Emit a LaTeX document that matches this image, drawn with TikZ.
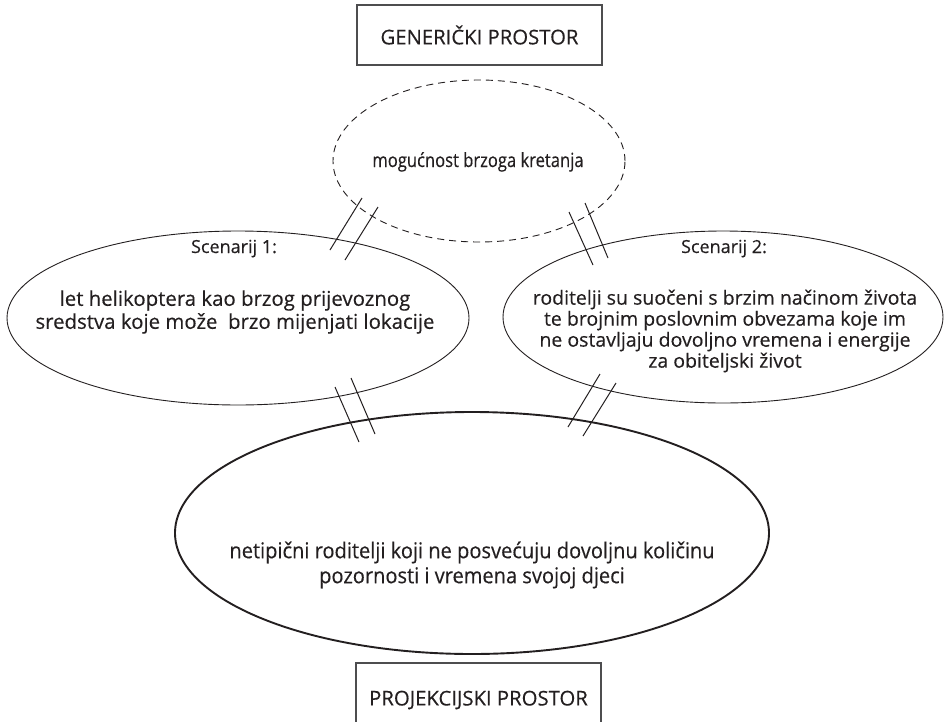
\documentclass[tikz,border=0pt]{standalone}
\usepackage{fontspec}
\setmainfont[FakeBold=0.35]{Open Sans}
\newfontfamily\narrowsans[FakeStretch=0.92,FakeBold=0.35]{Open Sans}
\newfontfamily\condsans[FakeStretch=0.85,FakeBold=0.35]{Open Sans}
\usetikzlibrary{shapes.geometric}
\definecolor{ink}{HTML}{231F20}
\definecolor{frame}{HTML}{4D4D4F}
\begin{document}
\begin{tikzpicture}[x=1pt,y=-1pt,
  spacebox/.style={draw=frame,line width=1.4pt,minimum width=245pt,minimum height=60pt,
    inner sep=0pt,text=ink,font=\fontsize{20.3}{24}\selectfont},
  oval/.style={ellipse,draw=ink,line width=0.9pt,inner sep=0pt},
  label/.style={text=ink,align=center,inner sep=0pt},
  hatch/.style={draw=ink,line width=1pt}]
\clip (0,0) rectangle (946,721);

% space labels
\node[spacebox] (gen) at (479.5,35) {GENERIČKI PROSTOR};
\node[spacebox,minimum height=74pt] (proj) at (478.5,700) {PROJEKCIJSKI PROSTOR};

% mental spaces
\node[oval,dashed,dash pattern=on 7pt off 5pt,minimum width=292pt,minimum height=162pt] (generic) at (479,161) {};
\node[oval,minimum width=462pt,minimum height=174pt] (scen1) at (238,318) {};
\node[oval,minimum width=440pt,minimum height=172pt] (scen2) at (723,317) {};
\node[oval,line width=1.9pt,minimum width=594pt,minimum height=242pt] (blend) at (472,533) {};

% texts
\node[label,anchor=base,font=\condsans\fontsize{19.5}{22}\selectfont] (tgen) at (478,167) {mogućnost brzoga kretanja};
\node[label,anchor=base,font=\fontsize{18}{21}\selectfont] (h1) at (234,253) {Scenarij 1:};
\node[label,font=\fontsize{20.4}{23}\selectfont] (t1) at (235,312) {let helikoptera kao brzog prijevoznog\\sredstva koje može\ \ brzo mijenjati lokacije};
\node[label,anchor=base,font=\fontsize{18}{21}\selectfont] (h2) at (724,253) {Scenarij 2:};
\node[label,font=\fontsize{19.5}{21}\selectfont] (t2) at (725,331) {roditelji su suočeni s brzim načinom života\\te brojnim poslovnim obvezama koje im\\ne ostavljaju dovoljno vremena i energije\\za obiteljski život};
\node[label,font=\narrowsans\fontsize{21.8}{25}\selectfont] (t3) at (472,565) {netipični roditelji koji ne posvećuju dovoljnu količinu\\pozornosti i vremena svojoj djeci};

% double strokes marking the mappings between spaces
\draw[hatch] (330,250) -- (362,198);
\draw[hatch] (345,260) -- (378,207);
\draw[hatch] (569,212) -- (593,265);
\draw[hatch] (585,203) -- (608,258);
\draw[hatch] (335,387) -- (359,442);
\draw[hatch] (351,378) -- (375,434);
\draw[hatch] (600,374) -- (568,427);
\draw[hatch] (616,383) -- (583,436);
\end{tikzpicture}
\end{document}
